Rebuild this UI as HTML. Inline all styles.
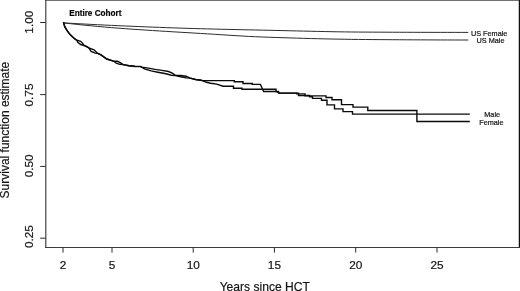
<!DOCTYPE html>
<html>
<head>
<meta charset="utf-8">
<title>Survival function estimate</title>
<style>
html,body{margin:0;padding:0;background:#fff;}
body{width:520px;height:291px;overflow:hidden;}
svg{display:block;}
text{font-family:"Liberation Sans",sans-serif;fill:#151515;stroke:#151515;stroke-width:0.2px;}
</style>
</head>
<body>
<svg width="520" height="291" viewBox="0 0 520 291">
<rect width="520" height="291" fill="#fff"/>
<!-- plot box -->
<g stroke="#333" fill="none"><path d="M45.8,0V248" stroke-width="1.1"/><path d="M45.2,0.2H520" stroke-width="1"/><path d="M519.4,0V248" stroke-width="1.3" stroke="#111"/><path d="M45.2,247.5H520" stroke-width="1" stroke="#3c3c3c"/></g>
<!-- ticks -->
<g stroke="#2a2a2a" stroke-width="1" fill="none">
<path d="M40.2,22.5H45.8M40.2,94.6H45.8M40.2,166.4H45.8M40.2,238.2H45.8"/>
<path d="M63,247.3V252.6M112,247.3V252.6M193.2,247.3V252.6M274.4,247.3V252.6M355.7,247.3V252.6M437,247.3V252.6"/>
</g>
<!-- US curves -->
<g fill="none" stroke="#2c2c2c" stroke-width="1">
<path d="M63.4,22.90L70.3,23.28L77.1,23.65L84.0,24.02L90.9,24.37L97.7,24.71L104.6,25.05L111.4,25.37L118.3,25.68L125.2,25.99L132.0,26.28L138.9,26.57L145.8,26.85L152.6,27.12L159.5,27.38L166.3,27.63L173.2,27.87L180.1,28.10L186.9,28.32L193.8,28.52L200.7,28.72L207.5,28.90L214.4,29.07L221.2,29.24L228.1,29.40L235.0,29.56L241.8,29.71L248.7,29.86L255.6,30.00L262.4,30.15L269.3,30.29L276.1,30.44L283.0,30.60L289.9,30.77L296.7,30.93L303.6,31.09L310.5,31.25L317.3,31.40L324.2,31.54L331.0,31.68L337.9,31.80L344.8,31.90L351.6,31.99L358.5,32.06L365.4,32.10L372.2,32.14L379.1,32.17L385.9,32.20L392.8,32.23L399.7,32.26L406.5,32.28L413.4,32.31L420.3,32.33L427.1,32.34L434.0,32.36L440.8,32.37L447.7,32.39L454.6,32.39L461.4,32.40L468.3,32.40"/>
<path d="M63.4,22.90L70.3,23.66L77.1,24.40L84.0,25.11L90.9,25.78L97.7,26.43L104.6,27.04L111.4,27.62L118.3,28.16L125.2,28.67L132.0,29.16L138.9,29.62L145.8,30.08L152.6,30.52L159.5,30.97L166.3,31.40L173.2,31.82L180.1,32.23L186.9,32.64L193.8,33.04L200.7,33.44L207.5,33.85L214.4,34.29L221.2,34.73L228.1,35.17L235.0,35.60L241.8,36.00L248.7,36.38L255.6,36.72L262.4,37.01L269.3,37.25L276.1,37.48L283.0,37.70L289.9,37.92L296.7,38.13L303.6,38.33L310.5,38.52L317.3,38.69L324.2,38.85L331.0,39.00L337.9,39.14L344.8,39.25L351.6,39.36L358.5,39.44L365.4,39.50L372.2,39.56L379.1,39.61L385.9,39.66L392.8,39.71L399.7,39.75L406.5,39.80L413.4,39.84L420.3,39.87L427.1,39.90L434.0,39.93L440.8,39.96L447.7,39.97L454.6,39.99L461.4,40.00L468.3,40.00"/>
</g>
<!-- cohort curves -->
<g fill="none" stroke="#0a0a0a" stroke-width="1.4" stroke-linejoin="miter">
<path id="female" d="M63.4,22.3L64.8,26.7L67.2,30.6L69.6,33.9L72.5,36.8L75.4,39.2L76.8,40.2L80.7,41.3L83.1,43.9L84,45.5L85.8,46.2L88.8,47.9L94,49.8L97.5,53.2L101,54.9L106.8,59L112.7,60.8L113.9,61.3L117.4,61.3L120.3,62.7L123.2,64.6L129,65.8L134.9,66.3L140.4,66.4L141.7,67.1L148.5,68.1L155.2,69.4L161.9,70.4L168.6,71.5L172.7,73.4L175.4,75.4L180.8,75.5L186.1,76.3L190.2,78.1L195.6,79.5L201,80.3L202.4,80.6H234.3V81.8H243V83.5H252.2V84.4H260.4L263.6,91.5H276.5L279.8,93.1H296.7V93.9H305V95.9H326V97.5H332V99.8H341.5V104.6H353V107.1H367.8V110.5H416.9V121.5H469.8"/>
<path id="male" d="M63.4,22.3L64.8,26.9L67.2,30.8L69.6,34.1L72.5,37L75.4,39.4L76.8,40.2L77.8,42.2L80.7,44.5L84,45.5L85.8,46.2L88.8,47.9L91.1,51.4L95.2,53.1L97.5,53.4L101,54.9L106.8,59L112.7,60.8L113.9,61.3L116.2,63.1L119.7,64.3L123.2,64.6L129,65.8L134.9,66.5L140.4,66.6L141.7,67.1L144.4,68.8L151.2,70.9L157.9,72.2L166,73.8L171.3,75.2L175.4,75.6L180.8,76.8L186.1,77.9L190.2,78.1L195.6,79.5L201,80.3L202.4,80.6L206.5,82.3L210.6,83.3L216.8,84.1L223,86.2H233.5V88.2H242V89.2H276V91.5H278.5V93.1H298.5V95.5H309.5V96.8H312.5V98.4H321.5V100.2H327V104.9H334.5V108.9H343V111.6H352.5V114.1H469.8"/>
</g>
<!-- labels -->
<text x="69.2" y="15.9" font-size="8.2" font-weight="bold" fill="#000" style="fill:#000">Entire Cohort</text>
<text x="489.2" y="35.7" font-size="7.3" text-anchor="middle">US Female</text>
<text x="490.5" y="43.2" font-size="7.3" text-anchor="middle">US Male</text>
<text x="492.2" y="117.2" font-size="7.3" text-anchor="middle">Male</text>
<text x="491.4" y="124.9" font-size="7.3" text-anchor="middle">Female</text>
<!-- x tick labels -->
<g font-size="11.8" text-anchor="middle">
<text x="63" y="269.2">2</text>
<text x="112" y="269.2">5</text>
<text x="193.2" y="269.2">10</text>
<text x="274.4" y="269.2">15</text>
<text x="355.7" y="269.2">20</text>
<text x="437" y="269.2">25</text>
</g>
<text x="264.8" y="290.7" font-size="12.1" text-anchor="middle">Years since HCT</text>
<!-- y tick labels -->
<g font-size="11.8" text-anchor="middle">
<text transform="translate(32.8,22.2) rotate(-90)">1.00</text>
<text transform="translate(32.8,95.0) rotate(-90)">0.75</text>
<text transform="translate(32.8,165.8) rotate(-90)">0.50</text>
<text transform="translate(32.8,236.6) rotate(-90)">0.25</text>
</g>
<text transform="translate(9.3,130.1) rotate(-90)" font-size="12" text-anchor="middle">Survival function estimate</text>
</svg>
</body>
</html>
